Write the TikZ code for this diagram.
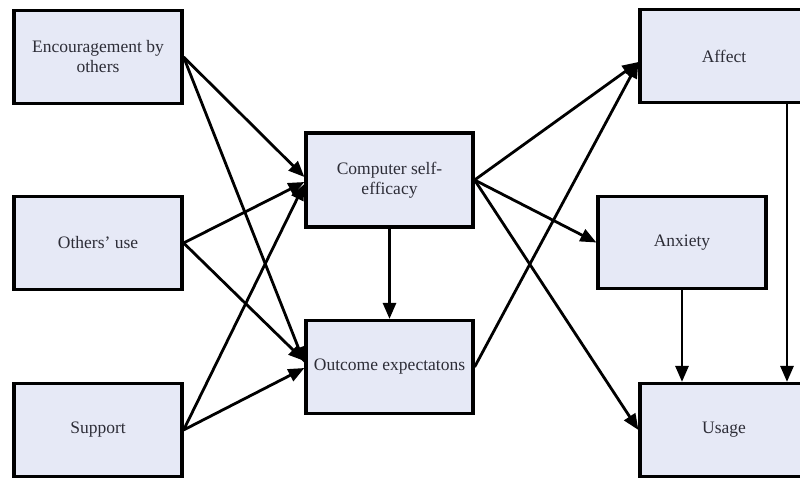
\documentclass[tikz,border=0pt]{standalone}
\usepackage{fontspec}
\setmainfont{Liberation Serif}
\usetikzlibrary{arrows.meta,calc}
\definecolor{boxfill}{RGB}{230,233,246}
\definecolor{boxtext}{RGB}{45,45,55}
\begin{document}
\begin{tikzpicture}[x=1pt,y=-1pt,
  construct/.style={draw=black,line width=3.2pt,fill=boxfill,
    minimum width=168pt,minimum height=93pt,inner sep=4pt,
    align=center,text=boxtext,font=\fontsize{17.5}{20}\selectfont},
  path/.style={draw=black,line width=2.8pt,
    -{Triangle[length=16pt,width=13pt]}}]
\useasboundingbox (0,0) rectangle (800,478);

% antecedents
\node[construct] (enc) at (98,57)  {Encouragement by\\others};
\node[construct] (oth) at (98,243) {Others’ use};
\node[construct] (sup) at (98,430) {Support};

% cognitions
\node[construct,minimum width=167pt,minimum height=94pt] (cse) at (389.5,180) {Computer self-\\efficacy};
\node[construct,minimum width=167pt] (oe) at (389.5,367) {Outcome expectatons};

% outcomes
\node[construct] (aff) at (724,56)  {Affect};
\node[construct,minimum height=92pt] (anx) at (682,242.5) {Anxiety};
\node[construct] (use) at (724,430) {Usage};

% antecedents -> cognitions
\draw[path] (enc.east) -- ($(cse.west)+(0,-3)$);
\draw[path] (oth.east) -- ($(cse.west)+(0,2)$);
\draw[path] (sup.east) -- ($(cse.west)+(0,4)$);
\draw[path] (enc.east) -- ($(oe.west)+(0,-4)$);
\draw[path] (oth.east) -- ($(oe.west)+(0,-6)$);
\draw[path] (sup.east) -- ($(oe.west)+(0,1)$);

% self-efficacy -> outcome expectations
\draw[path] (cse.south) -- (oe.north);

% cognitions -> outcomes
\draw[path] (cse.east) -- ($(aff.west)+(0,6)$);
\draw[path] (oe.east)  -- ($(aff.west)+(0,6)$);
\draw[path] (cse.east) -- (anx.west);
\draw[path] (cse.east) -- (use.west);

% outcomes -> usage
\draw[path] (anx.south) -- (anx.south |- use.north);
\draw[path] ($(aff.south)+(63,0)$) -- ($(use.north)+(63,0)$);
\end{tikzpicture}
\end{document}
